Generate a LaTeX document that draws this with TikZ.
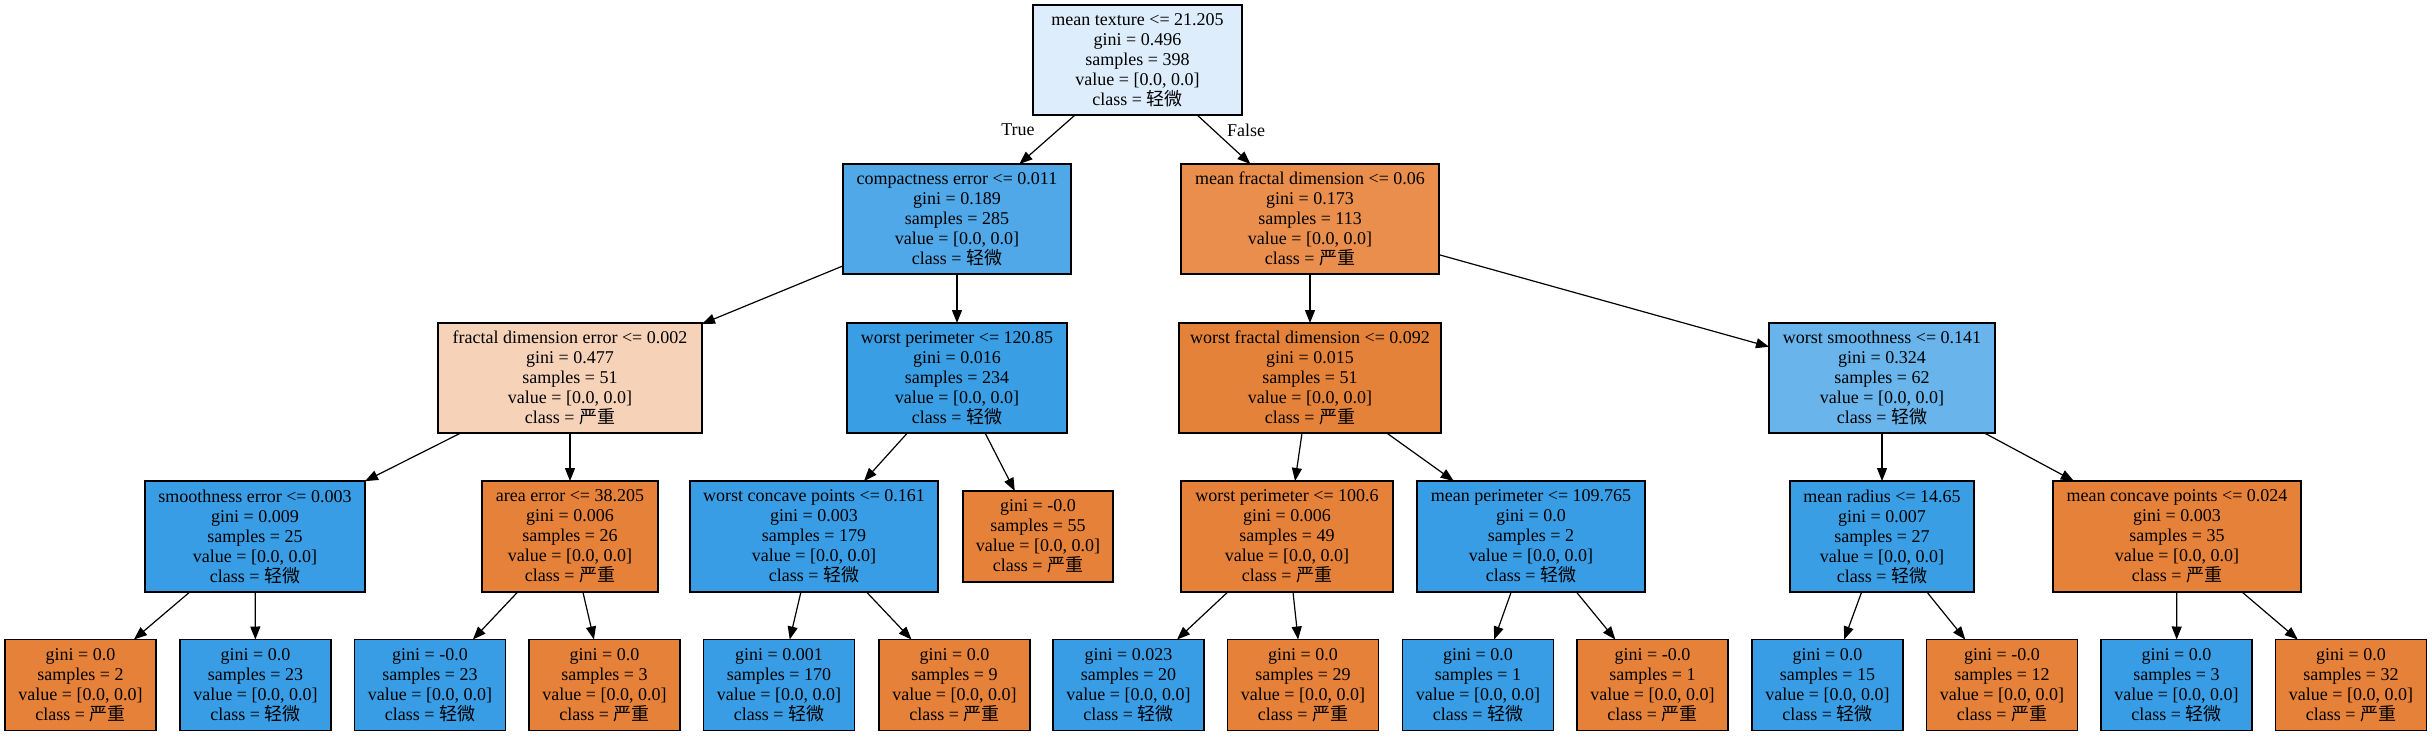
\documentclass[tikz,border=0pt]{standalone}
\usepackage{fontspec}
\setmainfont{Liberation Serif}
\newfontfamily\cjkfont{Noto Sans CJK SC}
\usetikzlibrary{arrows.meta}
\newcommand\clsQ{{\cjkfont 轻微}}
\newcommand\clsY{{\cjkfont 严重}}
\definecolor{croot}{RGB}{221,237,251}
\definecolor{cbA}{RGB}{80,168,232}
\definecolor{coA}{RGB}{233,142,77}
\definecolor{cpeach}{RGB}{246,210,184}
\definecolor{cbB}{RGB}{58,158,229}
\definecolor{coB}{RGB}{229,130,58}
\definecolor{cbC}{RGB}{104,180,235}
\definecolor{cblue}{RGB}{57,157,229}
\definecolor{corange}{RGB}{229,129,57}
\begin{document}
\begin{tikzpicture}[x=1pt,y=-1pt,
  box/.style={draw=black, line width=1.2pt, align=center, inner sep=0pt, outer sep=0pt,
    font=\fontsize{18}{20}\selectfont, text=black, minimum height=110},
  leaf/.style={box, minimum width=151, minimum height=91},
  edge/.style={line width=1.2pt, -{Triangle[length=13pt,width=10pt]}},
  lbl/.style={font=\fontsize{18}{20}\selectfont, inner sep=0pt}]
\useasboundingbox (0,0) rectangle (2432,736);
% row 0
\node[box, fill=croot, minimum width=209] (n0) at (1137.5,60) {mean texture <= 21.205\\gini = 0.496\\samples = 398\\value = [0.0, 0.0]\\class = \clsQ};
% row 1
\node[box, fill=cbA, minimum width=228] (n1) at (957,219) {compactness error <= 0.011\\gini = 0.189\\samples = 285\\value = [0.0, 0.0]\\class = \clsQ};
\node[box, fill=coA, minimum width=258] (n2) at (1310,219) {mean fractal dimension <= 0.06\\gini = 0.173\\samples = 113\\value = [0.0, 0.0]\\class = \clsY};
% row 2
\node[box, fill=cpeach, minimum width=264] (n3) at (570,378) {fractal dimension error <= 0.002\\gini = 0.477\\samples = 51\\value = [0.0, 0.0]\\class = \clsY};
\node[box, fill=cbB, minimum width=220] (n4) at (957,378) {worst perimeter <= 120.85\\gini = 0.016\\samples = 234\\value = [0.0, 0.0]\\class = \clsQ};
\node[box, fill=coB, minimum width=262] (n5) at (1310,378) {worst fractal dimension <= 0.092\\gini = 0.015\\samples = 51\\value = [0.0, 0.0]\\class = \clsY};
\node[box, fill=cbC, minimum width=226] (n6) at (1882,378) {worst smoothness <= 0.141\\gini = 0.324\\samples = 62\\value = [0.0, 0.0]\\class = \clsQ};
% row 3
\node[box, fill=cblue, minimum width=220, minimum height=111] (n7) at (255,536.5) {smoothness error <= 0.003\\gini = 0.009\\samples = 25\\value = [0.0, 0.0]\\class = \clsQ};
\node[box, fill=corange, minimum width=176, minimum height=111] (n8) at (570,536.5) {area error <= 38.205\\gini = 0.006\\samples = 26\\value = [0.0, 0.0]\\class = \clsY};
\node[box, fill=cblue, minimum width=248, minimum height=111] (n9) at (814,536.5) {worst concave points <= 0.161\\gini = 0.003\\samples = 179\\value = [0.0, 0.0]\\class = \clsQ};
\node[leaf, fill=corange, minimum width=150] (n10) at (1038,536.5) {gini = -0.0\\samples = 55\\value = [0.0, 0.0]\\class = \clsY};
\node[box, fill=corange, minimum width=212, minimum height=111] (n11) at (1287,536.5) {worst perimeter <= 100.6\\gini = 0.006\\samples = 49\\value = [0.0, 0.0]\\class = \clsY};
\node[box, fill=cblue, minimum width=228, minimum height=111] (n12) at (1531,536.5) {mean perimeter <= 109.765\\gini = 0.0\\samples = 2\\value = [0.0, 0.0]\\class = \clsQ};
\node[box, fill=cbB, minimum width=184, minimum height=111] (n13) at (1882,536.5) {mean radius <= 14.65\\gini = 0.007\\samples = 27\\value = [0.0, 0.0]\\class = \clsQ};
\node[box, fill=corange, minimum width=248, minimum height=111] (n14) at (2177,536.5) {mean concave points <= 0.024\\gini = 0.003\\samples = 35\\value = [0.0, 0.0]\\class = \clsY};
% row 4
\node[leaf, fill=corange] (l1) at (80.5,685) {gini = 0.0\\samples = 2\\value = [0.0, 0.0]\\class = \clsY};
\node[leaf, fill=cblue] (l2) at (255.5,685) {gini = 0.0\\samples = 23\\value = [0.0, 0.0]\\class = \clsQ};
\node[leaf, fill=cblue] (l3) at (430,685) {gini = -0.0\\samples = 23\\value = [0.0, 0.0]\\class = \clsQ};
\node[leaf, fill=corange] (l4) at (604.5,685) {gini = 0.0\\samples = 3\\value = [0.0, 0.0]\\class = \clsY};
\node[leaf, fill=cblue] (l5) at (779,685) {gini = 0.001\\samples = 170\\value = [0.0, 0.0]\\class = \clsQ};
\node[leaf, fill=corange] (l6) at (954.5,685) {gini = 0.0\\samples = 9\\value = [0.0, 0.0]\\class = \clsY};
\node[leaf, fill=cblue] (l7) at (1128.5,685) {gini = 0.023\\samples = 20\\value = [0.0, 0.0]\\class = \clsQ};
\node[leaf, fill=corange] (l8) at (1303,685) {gini = 0.0\\samples = 29\\value = [0.0, 0.0]\\class = \clsY};
\node[leaf, fill=cblue] (l9) at (1478,685) {gini = 0.0\\samples = 1\\value = [0.0, 0.0]\\class = \clsQ};
\node[leaf, fill=corange] (l10) at (1652.5,685) {gini = -0.0\\samples = 1\\value = [0.0, 0.0]\\class = \clsY};
\node[leaf, fill=cblue] (l11) at (1827.5,685) {gini = 0.0\\samples = 15\\value = [0.0, 0.0]\\class = \clsQ};
\node[leaf, fill=corange] (l12) at (2002,685) {gini = -0.0\\samples = 12\\value = [0.0, 0.0]\\class = \clsY};
\node[leaf, fill=cblue] (l13) at (2176.5,685) {gini = 0.0\\samples = 3\\value = [0.0, 0.0]\\class = \clsQ};
\node[leaf, fill=corange] (l14) at (2351,685) {gini = 0.0\\samples = 32\\value = [0.0, 0.0]\\class = \clsY};
% edge labels
\node[lbl] (tT) at (1018,130) {True};
\node[lbl] (tF) at (1246,130) {False};
% edges
\draw[edge] (n0) -- (n1);
\draw[edge] (n0) -- (n2);
\draw[edge] (n1) -- (n3);
\draw[edge] (n1) -- (n4);
\draw[edge] (n2) -- (n5);
\draw[edge] (n2) -- (n6);
\draw[edge] (n3) -- (n7);
\draw[edge] (n3) -- (n8);
\draw[edge] (n4) -- (n9);
\draw[edge] (n4) -- (n10);
\draw[edge] (n5) -- (n11);
\draw[edge] (n5) -- (n12);
\draw[edge] (n6) -- (n13);
\draw[edge] (n6) -- (n14);
\draw[edge] (n7) -- (l1);
\draw[edge] (n7) -- (l2);
\draw[edge] (n8) -- (l3);
\draw[edge] (n8) -- (l4);
\draw[edge] (n9) -- (l5);
\draw[edge] (n9) -- (l6);
\draw[edge] (n11) -- (l7);
\draw[edge] (n11) -- (l8);
\draw[edge] (n12) -- (l9);
\draw[edge] (n12) -- (l10);
\draw[edge] (n13) -- (l11);
\draw[edge] (n13) -- (l12);
\draw[edge] (n14) -- (l13);
\draw[edge] (n14) -- (l14);
\end{tikzpicture}
\end{document}
